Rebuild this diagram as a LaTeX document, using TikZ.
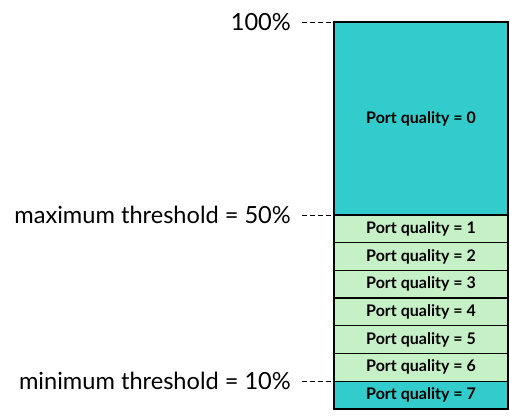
\documentclass[tikz,border=0pt]{standalone}
\usepackage{fontspec}
\setmainfont{Lato}
\usetikzlibrary{positioning}
\definecolor{portteal}{HTML}{33CCCC}
\definecolor{portmint}{HTML}{C6F0C6}

\begin{document}
\begin{tikzpicture}[x=1pt,y=1pt,
  node distance=0pt,
  cell/.style={draw=black,line width=1.3pt,fill=portmint,minimum width=174pt,
    minimum height=27.7pt,inner sep=0pt,outer sep=0pt,
    font=\bfseries\fontsize{16}{18}\selectfont},
  lvl/.style={inner sep=0pt,font=\fontsize{23.6}{26}\selectfont},
  guide/.style={dash pattern=on 5pt off 3pt,line width=0.8pt,shorten <=11pt}]
\useasboundingbox (0,0) rectangle (510,415);
\node[cell,fill=portteal,minimum height=193pt,anchor=north west] (q0) at (334,393) {Port quality = 0};
\foreach \i [remember=\i as \prev (initially 0)] in {1,...,6}
  \node[cell,below=of q\prev] (q\i) {Port quality = \i};
\node[cell,fill=portteal,below=of q6] (q7) {Port quality = 7};
% threshold levels
\node[lvl,left=43pt of q0.north west] (top) {100\%};
\node[lvl,left=43pt of q1.north west] (maxth) {maximum threshold = 50\%};
\node[lvl,left=43pt of q7.north west] (minth) {minimum threshold = 10\%};
\draw[guide] (top) -- (q0.north west);
\draw[guide] (maxth) -- (q1.north west);
\draw[guide] (minth) -- (q7.north west);
\end{tikzpicture}
\end{document}
